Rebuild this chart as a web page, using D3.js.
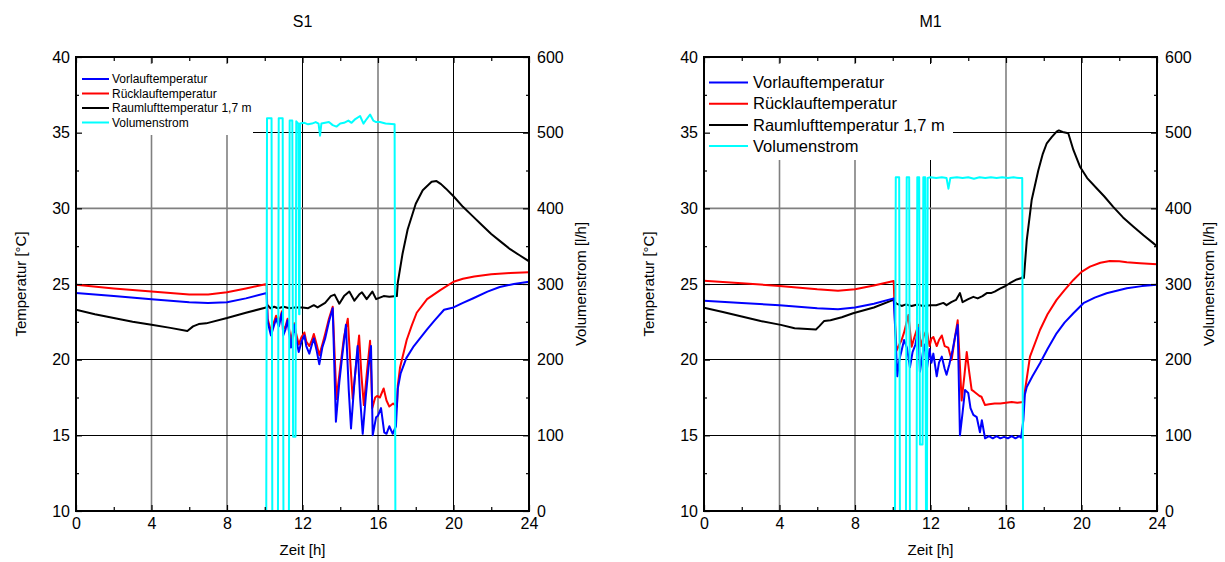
<!DOCTYPE html>
<html>
<head>
<meta charset="utf-8">
<script src="https://cdn.jsdelivr.net/npm/d3@7"></script>
<style>
  html, body { margin: 0; padding: 0; background: #fff; }
  svg { display: block; font-family: "Liberation Sans", Arial, sans-serif; }
</style>
</head>
<body>
<script>
// ---------------- DATA ----------------
const chartTitles = ["S1", "M1"];
const seriesNames = ["Vorlauftemperatur", "Rücklauftemperatur", "Raumlufttemperatur 1,7 m", "Volumenstrom"];
const hourTicks = [0, 4, 8, 12, 16, 20, 24];
const tempTicks = [10, 15, 20, 25, 30, 35, 40];
const flowTicks = [0, 100, 200, 300, 400, 500, 600];
const xLabel = "Zeit [h]";
const yLabelLeft = "Temperatur [°C]";
const yLabelRight = "Volumenstrom [l/h]";

// S1  [hour, value]
const s1Vorlauf = [[0,24.4],[2,24.2],[4,24.0],[6,23.8],[7,23.75],[8,23.8],[9,24.05],[10.1,24.4],
 [10.15,22.5],[10.33,21.6],[10.6,22.7],[10.75,22.2],[10.91,23.1],[10.98,21.6],[11.1,22.0],[11.21,22.6],[11.39,20.8],[11.56,22.3],[11.65,21.5],[11.8,20.5],[11.95,21.2],[12.1,21.6],[12.2,20.9],[12.36,20.4],[12.5,21.0],[12.6,21.4],[12.75,20.6],[12.89,19.7],[13.05,20.8],[13.2,21.4],[13.4,22.5],[13.6,23.4],[13.77,15.9],[13.95,18.5],[14.1,20.2],[14.3,22.3],[14.45,18.0],[14.57,15.45],[14.75,18.5],[14.92,20.9],[15.05,17.5],[15.19,15.1],[15.35,17.5],[15.5,19.5],[15.63,20.9],[15.72,15.0],[15.9,16.2],[16.0,16.3],[16.16,16.8],[16.33,15.2],[16.45,15.1],[16.6,15.6],[16.78,15.1],[16.95,15.6],
 [17.05,18.1],[17.2,19.1],[17.5,20.1],[17.9,20.9],[18.6,22.0],[19.0,22.6],[19.5,23.3],[20.0,23.45],[20.5,23.75],[21.05,24.06],[21.8,24.5],[22.45,24.8],[23.2,25.0],[24,25.15]];
const s1Ruecklauf = [[0,24.95],[2,24.7],[4,24.5],[6,24.3],[7,24.3],[8,24.45],[9,24.7],[10.1,25.0],
 [10.15,22.7],[10.33,21.9],[10.6,22.9],[10.75,22.4],[10.91,23.2],[10.98,22.0],[11.1,22.2],[11.21,22.7],[11.39,21.2],[11.56,22.4],[11.65,21.8],[11.8,21.0],[11.95,21.5],[12.1,21.8],[12.2,21.2],[12.36,20.9],[12.5,21.3],[12.6,21.7],[12.75,21.0],[12.89,20.3],[13.05,21.0],[13.2,21.7],[13.4,22.7],[13.6,23.5],[13.8,17.4],[14.0,19.5],[14.2,21.5],[14.4,22.7],[14.55,19.5],[14.66,17.4],[14.85,19.8],[15.0,21.6],[15.12,19.0],[15.25,17.0],[15.4,19.0],[15.58,21.25],[15.7,16.8],[15.85,17.5],[15.95,17.6],[16.1,17.5],[16.3,18.1],[16.45,17.3],[16.6,16.9],[16.8,17.1],[17.0,16.9],
 [17.05,18.3],[17.17,19.5],[17.52,21.3],[17.8,22.3],[18.05,23.1],[18.6,24.0],[19.3,24.6],[20.0,25.15],[20.5,25.35],[21.1,25.5],[22.0,25.65],[23.0,25.72],[24,25.78]];
const s1Raumluft = [[0,23.3],[1,23.0],[2,22.75],[3,22.5],[4,22.3],[5,22.1],[5.9,21.9],[6.2,22.2],[6.5,22.35],[6.9,22.4],[8,22.75],[9,23.1],[10.07,23.45],
 [10.15,23.6],[10.3,23.4],[10.5,23.5],[10.7,23.4],[11.0,23.5],[11.3,23.4],[11.6,23.45],[12.0,23.45],[12.3,23.4],[12.6,23.6],[12.8,23.45],[13.0,23.6],[13.2,23.75],[13.5,24.2],[13.7,24.3],[13.95,23.7],[14.2,24.2],[14.48,24.5],[14.75,23.9],[15.0,24.3],[15.15,24.45],[15.4,24.0],[15.7,24.5],[15.9,24.0],[16.3,24.2],[16.6,24.15],[17.0,24.2],
 [17.05,25.1],[17.3,27.0],[17.57,28.6],[18.0,30.3],[18.37,31.2],[18.84,31.75],[19.1,31.8],[19.34,31.6],[19.6,31.3],[20.0,30.8],[20.5,30.1],[21.0,29.5],[21.5,28.9],[22.0,28.3],[22.5,27.8],[23.0,27.3],[23.5,26.9],[24,26.5]];
const s1Volumen = [[0,0],[10.08,0],[10.12,519],[10.36,519],[10.4,0],[10.7,0],[10.74,519],[10.95,519],[10.99,0],[11.28,0],[11.32,516],[11.46,516],[11.5,98],[11.63,98],[11.67,515],[11.78,512],[11.82,260],[11.84,260],[11.87,512],
 [12.1,513],[12.3,511],[12.5,512],[12.7,514],[12.85,512],[12.93,496],[13.0,512],[13.2,513],[13.4,514],[13.6,510],[13.8,508],[14.0,512],[14.2,513],[14.43,516],[14.6,513],[14.8,518],[15.05,522],[15.23,512],[15.4,518],[15.58,524],[15.75,516],[15.9,514],[16.1,514],[16.4,512],[16.88,511],[16.92,0],[24,0]];

// M1  [hour, value]
const m1Vorlauf = [[0,23.9],[2,23.75],[4,23.6],[6,23.4],[7.1,23.33],[8,23.45],[9,23.7],[10.05,24.05],
 [10.15,21.5],[10.24,18.9],[10.35,20.0],[10.47,20.6],[10.6,21.3],[10.75,20.8],[10.91,19.5],[11.05,20.5],[11.2,21.0],[11.36,22.1],[11.44,19.2],[11.6,20.5],[11.7,21.0],[11.8,19.3],[11.95,20.7],[12.05,19.8],[12.15,20.4],[12.33,18.9],[12.45,19.8],[12.6,20.2],[12.75,19.4],[12.85,19.0],[13.0,19.7],[13.15,20.5],[13.3,21.5],[13.44,22.3],[13.56,15.0],[13.7,16.5],[13.83,18.0],[14.0,17.8],[14.12,16.8],[14.27,16.35],[14.45,16.2],[14.62,15.2],[14.72,16.0],[14.89,14.8],[15.1,14.95],[15.3,14.8],[15.5,14.95],[15.7,14.8],[15.9,14.9],[16.1,14.8],[16.3,14.95],[16.5,14.8],[16.7,14.95],[16.8,14.85],[16.92,16.0],
 [17.0,17.7],[17.1,18.2],[17.4,18.9],[17.8,19.76],[18.2,20.7],[18.68,21.74],[19.1,22.45],[19.57,23.07],[20.1,23.73],[20.7,24.1],[21.33,24.39],[22.4,24.72],[23.2,24.86],[24,24.95]];
const m1Ruecklauf = [[0,25.22],[2,25.05],[4,24.87],[6,24.65],[7.1,24.56],[8,24.65],[9,24.9],[10.05,25.2],
 [10.12,22.5],[10.2,20.6],[10.35,21.0],[10.47,21.3],[10.6,21.8],[10.83,22.95],[11.0,20.86],[11.15,21.5],[11.36,22.3],[11.5,20.9],[11.65,21.6],[11.8,21.96],[11.95,20.9],[12.05,21.4],[12.15,21.5],[12.33,20.9],[12.45,21.3],[12.6,21.6],[12.75,20.9],[12.94,20.8],[13.12,19.98],[13.3,21.5],[13.44,22.6],[13.65,17.3],[13.8,19.0],[13.92,20.5],[14.05,19.2],[14.18,18.0],[14.3,17.9],[14.45,17.75],[14.6,17.6],[14.7,17.55],[14.89,17.0],[15.1,17.05],[15.4,17.1],[15.7,17.1],[16.0,17.15],[16.3,17.2],[16.6,17.15],[16.92,17.2],
 [17.0,17.9],[17.27,20.2],[17.8,21.96],[18.2,23.0],[18.68,23.95],[19.1,24.6],[19.57,25.27],[20.0,25.8],[20.45,26.15],[21.0,26.4],[21.5,26.52],[22.0,26.5],[22.4,26.44],[23.1,26.37],[24,26.3]];
const m1Raumluft = [[0,23.44],[1,23.15],[2,22.85],[3,22.55],[4.07,22.3],[4.8,22.07],[5.93,22.0],[6.1,22.2],[6.37,22.56],[6.7,22.6],[7.3,22.8],[7.9,23.07],[9,23.45],[10.03,23.95],
 [10.2,23.7],[10.47,23.55],[10.7,23.65],[11.0,23.55],[11.3,23.65],[11.6,23.55],[12.0,23.6],[12.3,23.6],[12.68,23.75],[12.85,23.6],[13.1,23.8],[13.35,23.95],[13.56,24.4],[13.7,23.8],[14.0,24.0],[14.27,24.15],[14.5,24.05],[14.75,24.2],[14.98,24.4],[15.2,24.4],[15.4,24.5],[15.68,24.7],[15.95,24.85],[16.2,25.05],[16.57,25.3],[16.83,25.4],[16.9,25.5],[16.95,25.4],
 [17.1,27.9],[17.36,30.55],[17.71,32.5],[17.95,33.6],[18.16,34.3],[18.42,34.7],[18.68,35.07],[18.8,35.15],[19.0,35.05],[19.3,34.96],[19.57,33.86],[19.92,32.75],[20.3,32.0],[20.8,31.33],[21.2,30.8],[21.68,30.1],[22.2,29.4],[22.74,28.8],[23.3,28.2],[23.8,27.7],[24,27.5]];
const m1Volumen = [[0,0],[10.12,0],[10.16,441],[10.34,441],[10.38,0],[10.7,0],[10.74,441],[10.87,441],[10.91,0],[11.26,0],[11.3,441],[11.4,441],[11.44,88],[11.58,88],[11.62,441],[11.72,441],[11.76,0],[11.81,0],[11.85,440],
 [12.0,441],[12.3,440],[12.6,441],[12.85,440],[12.95,426],[13.05,440],[13.4,441],[13.7,440],[14.0,441],[14.3,439],[14.6,441],[14.9,440],[15.2,441],[15.5,440],[15.8,441],[16.1,440],[16.4,441],[16.7,440],[16.86,440],[16.9,0],[24,0]];

// ---------------- DRAWING ----------------
const W = 1225, H = 562;
const colors = ["#0000ff", "#ff0000", "#000000", "#00ffff"];
const svg = d3.select("body").append("svg").attr("width", W).attr("height", H);
svg.append("rect").attr("width", W).attr("height", H).attr("fill", "#fff");

const panels = [
  { x0: 76, x1: 529, title: chartTitles[0], temps: [s1Vorlauf, s1Ruecklauf, s1Raumluft], flow: s1Volumen,
    legend: { x: 77, y: 64, w: 176, h: 71, fs: 12, lx0: 82, lx1: 109, tx: 112, ry0: 79, dy: 14.5 } },
  { x0: 704, x1: 1157, title: chartTitles[1], temps: [m1Vorlauf, m1Ruecklauf, m1Raumluft], flow: m1Volumen,
    legend: { x: 705, y: 64, w: 248, h: 96, fs: 16.5, lx0: 709, lx1: 748, tx: 753, ry0: 82.5, dy: 21.2 } }
];
const yTop = 57, yBot = 511;
const grayGridX = new Set([4, 8, 16]);
const grayGridY = new Set([30]);
const snap = v => Math.round(v) + 0.5;

panels.forEach((p, pi) => {
  const g = svg.append("g");
  const x = d3.scaleLinear().domain([0, 24]).range([p.x0, p.x1]);
  const yT = d3.scaleLinear().domain([10, 40]).range([yBot, yTop]);
  const yV = d3.scaleLinear().domain([0, 600]).range([yBot, yTop]);

  // grid
  hourTicks.slice(1, -1).forEach(h => {
    const gray = grayGridX.has(h);
    const xx = gray ? x(h) : snap(x(h) - 0.5);
    g.append("line").attr("x1", xx).attr("x2", xx).attr("y1", yTop).attr("y2", yBot)
      .attr("stroke", gray ? "#808080" : "#000")
      .attr("stroke-width", gray ? 1.6 : 1);
  });
  tempTicks.slice(1, -1).forEach(t => {
    const gray = grayGridY.has(t);
    const yy = gray ? yT(t) : snap(yT(t) - 0.5);
    g.append("line").attr("x1", p.x0).attr("x2", p.x1).attr("y1", yy).attr("y2", yy)
      .attr("stroke", gray ? "#808080" : "#000")
      .attr("stroke-width", gray ? 1.6 : 1);
  });

  // legend background
  const L = p.legend;
  g.append("rect").attr("x", L.x).attr("y", L.y).attr("width", L.w).attr("height", L.h).attr("fill", "#fff");

  // data
  const clipId = "clip" + pi;
  svg.append("clipPath").attr("id", clipId).append("rect")
    .attr("x", p.x0).attr("y", yTop).attr("width", p.x1 - p.x0).attr("height", yBot - yTop);
  const dg = g.append("g").attr("clip-path", `url(#${clipId})`);
  const lineT = d3.line().x(d => x(d[0])).y(d => yT(d[1]));
  const lineV = d3.line().x(d => x(d[0])).y(d => yV(d[1]));
  [2, 1, 0].forEach(i => {
    dg.append("path").datum(p.temps[i]).attr("d", lineT).attr("fill", "none")
      .attr("stroke", colors[i]).attr("stroke-width", 2).attr("stroke-linejoin", "round");
  });
  dg.append("path").datum(p.flow).attr("d", lineV).attr("fill", "none")
    .attr("stroke", colors[3]).attr("stroke-width", 2).attr("stroke-linejoin", "round");

  // axes
  const fs = "16px";
  const minorT = d3.range(12.5, 40, 5);
  const minorV = d3.range(50, 600, 100);
  const minorH = d3.range(2, 24, 4);

  g.append("g").attr("transform", `translate(${p.x0},0)`)
    .call(d3.axisLeft(yT).tickValues(tempTicks).tickSize(-6).tickPadding(6));
  g.append("g").attr("transform", `translate(${p.x0},0)`)
    .call(d3.axisLeft(yT).tickValues(minorT).tickSize(-3).tickFormat(""));
  g.append("g").attr("transform", `translate(${p.x1},0)`)
    .call(d3.axisRight(yV).tickValues(flowTicks).tickSize(-6).tickPadding(8));
  g.append("g").attr("transform", `translate(${p.x1},0)`)
    .call(d3.axisRight(yV).tickValues(minorV).tickSize(-3).tickFormat(""));
  g.append("g").attr("transform", `translate(0,${yBot})`)
    .call(d3.axisBottom(x).tickValues(hourTicks).tickSize(-6).tickPadding(7));
  g.append("g").attr("transform", `translate(0,${yBot})`)
    .call(d3.axisBottom(x).tickValues(minorH).tickSize(-4).tickFormat(""));
  g.append("g").attr("transform", `translate(0,${yTop})`)
    .call(d3.axisTop(x).tickValues(hourTicks).tickSize(-6).tickFormat(""));
  g.append("g").attr("transform", `translate(0,${yTop})`)
    .call(d3.axisTop(x).tickValues(minorH).tickSize(-4).tickFormat(""));
  g.selectAll(".domain").remove();
  g.selectAll(".tick line").attr("stroke", "#000").attr("stroke-width", 1.2);
  g.selectAll(".tick text").attr("fill", "#000").style("font-size", fs)
    .style("font-family", '"Liberation Sans", Arial, sans-serif');

  // frame
  g.append("rect").attr("x", p.x0).attr("y", yTop).attr("width", p.x1 - p.x0).attr("height", yBot - yTop)
    .attr("fill", "none").attr("stroke", "#000").attr("stroke-width", 2);

  // titles
  const cx = (p.x0 + p.x1) / 2;
  g.append("text").attr("x", cx).attr("y", 27).attr("text-anchor", "middle")
    .style("font-size", "16px").text(p.title);
  g.append("text").attr("x", cx).attr("y", 555).attr("text-anchor", "middle")
    .style("font-size", "15px").text(xLabel);
  const cy = (yTop + yBot) / 2;
  g.append("text").attr("transform", `translate(${p.x0 - 55},${cy}) rotate(-90)`)
    .attr("text-anchor", "middle").attr("dy", "0.35em").style("font-size", "15px").text(yLabelLeft);
  g.append("text").attr("transform", `translate(${p.x1 + 52},${cy}) rotate(-90)`)
    .attr("text-anchor", "middle").attr("dy", "0.35em").style("font-size", "15px").text(yLabelRight);

  // legend entries
  seriesNames.forEach((name, i) => {
    const yy = L.ry0 + i * L.dy;
    g.append("line").attr("x1", L.lx0).attr("x2", L.lx1).attr("y1", yy).attr("y2", yy)
      .attr("stroke", colors[i]).attr("stroke-width", 2);
    g.append("text").attr("x", L.tx).attr("y", yy).attr("dy", "0.35em")
      .style("font-size", L.fs + "px").text(name);
  });
});
</script>
</body>
</html>
